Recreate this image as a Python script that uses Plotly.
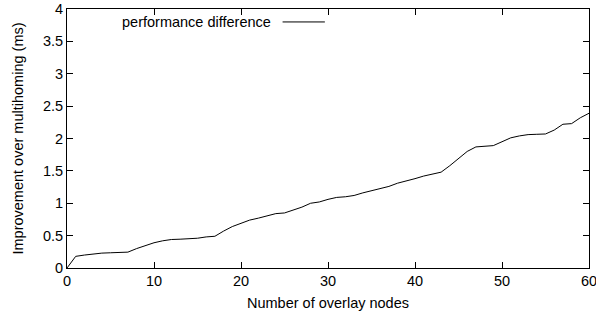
import plotly.graph_objects as go

nodes = list(range(0, 61))
improvement = [0.00, 0.18, 0.20, 0.22, 0.23, 0.235, 0.24, 0.245, 0.30, 0.35,
               0.39, 0.42, 0.44, 0.445, 0.45, 0.46, 0.48, 0.49, 0.57, 0.64,
               0.69, 0.74, 0.77, 0.80, 0.84, 0.85, 0.89, 0.94, 1.00, 1.02,
               1.06, 1.09, 1.10, 1.12, 1.16, 1.19, 1.23, 1.26, 1.31, 1.34,
               1.38, 1.42, 1.45, 1.48, 1.58, 1.69, 1.80, 1.87, 1.88, 1.89,
               1.95, 2.01, 2.04, 2.06, 2.065, 2.07, 2.13, 2.22, 2.23, 2.32,
               2.39]
series_name = "performance difference"
x_ticks = [0, 10, 20, 30, 40, 50, 60]
y_ticks = [0, 0.5, 1, 1.5, 2, 2.5, 3, 3.5, 4]
y_tick_labels = ["0", "0.5", "1", "1.5", "2", "2.5", "3", "3.5", "4"]

FONT = "Liberation Sans, Arial, Helvetica, sans-serif"
FS = 14.5

fig = go.Figure()
fig.add_trace(go.Scatter(x=nodes, y=improvement, mode="lines", name=series_name,
                         line=dict(color="black", width=1), showlegend=False,
                         hoverinfo="skip"))

axis_common = dict(showline=True, linecolor="black", linewidth=1, mirror="allticks",
                   ticks="inside", ticklen=6, tickcolor="black", tickwidth=1,
                   showgrid=False, zeroline=False, automargin=False,
                   ticklabeloverflow="allow",
                   tickfont=dict(family=FONT, size=FS, color="black"))

fig.update_xaxes(range=[0, 60], tickvals=x_ticks,
                 title=dict(text="Number of overlay nodes", font=dict(family=FONT, size=FS, color="black"), standoff=9),
                 **axis_common)
fig.update_yaxes(range=[0, 4], tickvals=y_ticks, ticktext=y_tick_labels,
                 title=dict(text="Improvement over multihoming (ms)", font=dict(family=FONT, size=FS, color="black"), standoff=15),
                 **axis_common)

# gnuplot-style key: text followed by line sample
fig.add_annotation(xref="paper", yref="paper", x=0.395, y=0.95, xanchor="right", yanchor="middle",
                   text=series_name, showarrow=False, font=dict(family=FONT, size=FS, color="black"))
fig.add_shape(type="line", xref="paper", yref="paper", x0=0.413, x1=0.494, y0=0.95, y1=0.95,
              line=dict(color="black", width=1))

fig.update_layout(width=596, height=313, margin=dict(l=67, r=7, t=9, b=45),
                  paper_bgcolor="white", plot_bgcolor="white",
                  font=dict(family=FONT, color="black"))

fig.write_html("out.html", config={"displayModeBar": False},
               post_script="document.body.style.margin='0';document.body.style.padding='0';")
